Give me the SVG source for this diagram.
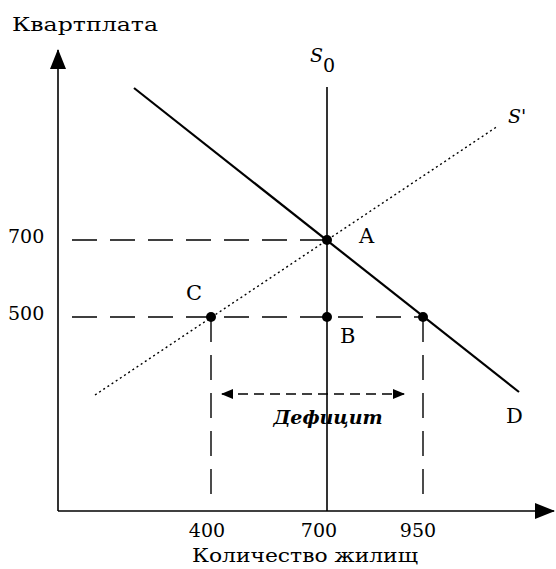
<svg xmlns="http://www.w3.org/2000/svg" width="556" height="569" viewBox="0 0 556 569">
<style>
text{font-family:"DejaVu Serif","Liberation Serif",serif;font-size:19px;fill:#000}
.ax{stroke:#000;stroke-width:1.6;fill:none}
.dash{stroke:#000;stroke-width:1.4;stroke-dasharray:25 13;fill:none}
.mid{text-anchor:middle}
.lt{font-size:21px}
</style>
<defs>
<marker id="ah" markerWidth="12" markerHeight="10" refX="11" refY="5" orient="auto-start-reverse" markerUnits="userSpaceOnUse"><path d="M0,0 L12,5 L0,10 Z" fill="#000"/></marker>
<marker id="big" markerWidth="20" markerHeight="16" refX="19" refY="8" orient="auto" markerUnits="userSpaceOnUse"><path d="M0,0 L20,8 L0,16 Z" fill="#000"/></marker>
</defs>
<g id="axes">
<line class="ax" x1="58" y1="511" x2="58" y2="50" marker-end="url(#big)"/>
<line class="ax" x1="58" y1="511" x2="554" y2="511" marker-end="url(#big)"/>
<text x="12" y="31" textLength="146" lengthAdjust="spacingAndGlyphs">Квартплата</text>
<text x="192" y="562" textLength="226" lengthAdjust="spacingAndGlyphs">Количество жилищ</text>
<text x="8" y="243">700</text>
<text x="8" y="320">500</text>
<text class="mid" x="207" y="537">400</text>
<text class="mid" x="319" y="537">700</text>
<text class="mid" x="418" y="537">950</text>
</g>
<g id="connectors">
<line class="dash" x1="72" y1="240" x2="327" y2="240"/>
<line class="dash" x1="72" y1="317" x2="423" y2="317"/>
<line class="dash" x1="211" y1="317" x2="211" y2="497"/>
<line class="dash" x1="423" y1="317" x2="423" y2="497"/>
<line x1="222" y1="394" x2="404" y2="394" stroke="#000" stroke-width="1.4" stroke-dasharray="10 6" marker-start="url(#ah)" marker-end="url(#ah)"/>
</g>
<g id="S0">
<line class="ax" x1="327" y1="87" x2="327" y2="511"/>
<text x="310" y="62" font-style="italic" font-size="24">S<tspan font-size="19" font-style="normal" dy="10">0</tspan></text>
</g>
<g id="D">
<line x1="134" y1="88" x2="519" y2="392" stroke="#000" stroke-width="2.2"/>
<text class="lt" x="506" y="423">D</text>
</g>
<g id="Sprime">
<line x1="95" y1="395" x2="498" y2="126" stroke="#000" stroke-width="1.4" stroke-dasharray="2 3"/>
<text x="508" y="123" font-style="italic" font-size="23">S'</text>
</g>
<g id="A"><circle cx="327" cy="240" r="5"/><text class="lt" x="359" y="243">A</text></g>
<g id="B"><circle cx="327" cy="317" r="5"/><text class="lt" x="340" y="343">B</text></g>
<g id="C"><circle cx="211" cy="317" r="5"/><text class="lt" x="186" y="300">C</text></g>
<g id="E"><circle cx="423" cy="317" r="5"/></g>
<g id="deficit"><text x="328" y="424" class="mid" font-style="italic" font-weight="bold" font-size="16">Дефицит</text></g>
</svg>
